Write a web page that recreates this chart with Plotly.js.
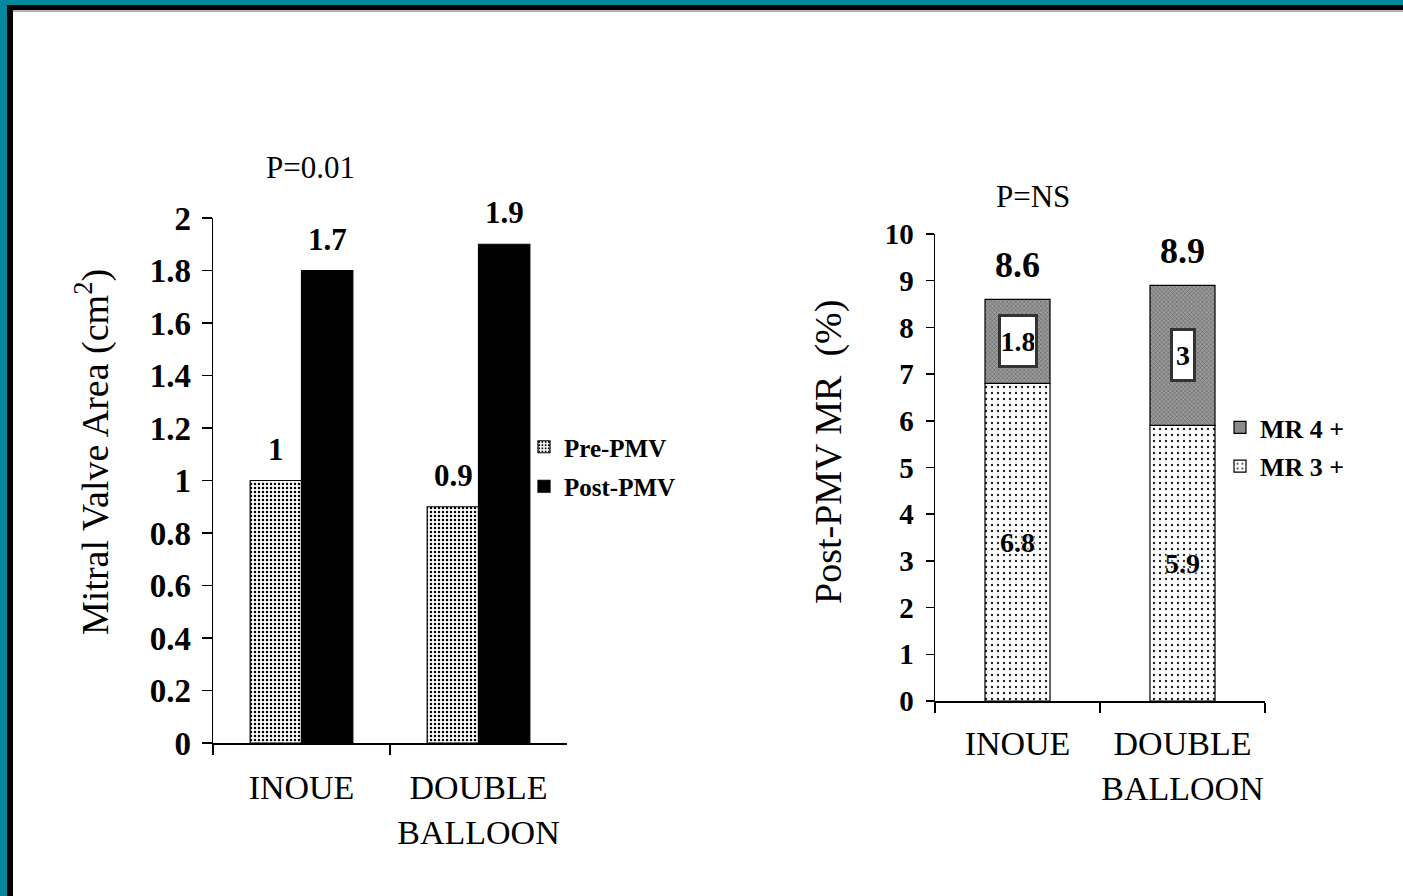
<!DOCTYPE html>
<html><head><meta charset="utf-8">
<script src="https://cdn.plot.ly/plotly-3.0.1.min.js"></script>
<style>html,body{margin:0;padding:0;background:#fff;overflow:hidden;} #chart{width:1403px;height:896px;}</style>
</head><body><div id="chart"></div>
<script>
// ---- data ----
const categories = ['INOUE', 'DOUBLE BALLOON'];
const categoryTickText = ['INOUE', 'DOUBLE<br>BALLOON'];
const prePMV = [1.0, 0.9];
const postPMV = [1.8, 1.9];
const prePMVLabels = ['1', '0.9'];
const postPMVLabels = ['1.7', '1.9'];
const mr3 = [6.8, 5.9];
const mr4 = [1.8, 3.0];
const mrTotalLabels = ['8.6', '8.9'];
const leftPValue = 'P=0.01';
const rightPValue = 'P=NS';

const SERIF = 'Liberation Serif, Times New Roman, serif';
const W = 1403, H = 896;
const px = v => v / W, py = v => 1 - v / H;

const traces = [
  {type:'bar', name:'Pre-PMV', x:categories, y:prePMV, xaxis:'x', yaxis:'y', legend:'legend', legendgroup:'a', legendrank:1,
   marker:{color:'#fff', line:{color:'#000', width:1.2},
     pattern:{shape:'.', fgcolor:'#000', bgcolor:'#fff', size:4, solidity:0.3}}},
  {type:'bar', name:'Post-PMV', x:categories, y:postPMV, xaxis:'x', yaxis:'y', legend:'legend', legendgroup:'b', legendrank:2,
   marker:{color:'#000', line:{color:'#000', width:1.2}}},
  {type:'bar', name:'MR 3 +', x:categories, y:mr3, xaxis:'x2', yaxis:'y2', legend:'legend2', legendgroup:'c', legendrank:2,
   offsetgroup:'mr', text:mr3.map(String), textposition:'inside', insidetextanchor:'middle',
   textfont:{family:SERIF, size:28, color:'#000', weight:'bold', shadow:'0 0 3px #fff, 0 0 3px #fff'},
   marker:{color:'#fff', line:{color:'#000', width:1.2},
     pattern:{shape:'.', fgcolor:'#222', bgcolor:'#fff', size:6, solidity:0.12}}},
  {type:'bar', name:'MR 4 +', x:categories, y:mr4, base:mr3, xaxis:'x2', yaxis:'y2', legend:'legend2', legendgroup:'d', legendrank:1,
   offsetgroup:'mr',
   marker:{color:'#888', line:{color:'#000', width:1.2},
     pattern:{shape:'x', fgcolor:'#5a5a5a', bgcolor:'#9a9a9a', size:3, solidity:0.3}}}
];

const annotations = [];
categories.forEach((c,i)=>{
  annotations.push({xref:'x', yref:'y', x:c, y:prePMV[i], xshift:-25.5, yshift:12, yanchor:'bottom',
    text:prePMVLabels[i], showarrow:false, font:{family:SERIF, size:31, weight:'bold', color:'#000'}});
  annotations.push({xref:'x', yref:'y', x:c, y:postPMV[i], xshift:25.5, yshift:12, yanchor:'bottom',
    text:postPMVLabels[i], showarrow:false, font:{family:SERIF, size:31, weight:'bold', color:'#000'}});
  annotations.push({xref:'x2', yref:'y2', x:c, y:mr3[i]+mr4[i], yshift:12, yanchor:'bottom',
    text:mrTotalLabels[i], showarrow:false, font:{family:SERIF, size:36, weight:'bold', color:'#000'}});
  annotations.push({xref:'x2', yref:'y2', x:c, y:mr3[i]+mr4[i]/2,
    text:String(mr4[i]), showarrow:false, bgcolor:'#fff', bordercolor:'#333', borderwidth:3, borderpad:1,
    width: i===0 ? 32 : 18, height:46,
    font:{family:SERIF, size:28, weight:'bold', color:'#000'}});
});
annotations.push({xref:'paper', yref:'paper', x:px(310), y:py(167), xanchor:'center', yanchor:'middle',
  text:leftPValue, showarrow:false, font:{family:SERIF, size:31, color:'#000'}});
annotations.push({xref:'paper', yref:'paper', x:px(1033), y:py(196), xanchor:'center', yanchor:'middle',
  text:rightPValue, showarrow:false, font:{family:SERIF, size:31, color:'#000'}});
annotations.push({xref:'paper', yref:'paper', x:px(92), y:py(452), xanchor:'center', yanchor:'middle', textangle:-90,
  text:'Mitral Valve Area (cm<sup>2</sup>)', showarrow:false, font:{family:SERIF, size:38, color:'#000'}});
annotations.push({xref:'paper', yref:'paper', x:px(828), y:py(452), xanchor:'center', yanchor:'middle', textangle:-90,
  text:'Post-PMV MR  (%)', showarrow:false, font:{family:SERIF, size:38, color:'#000'}});

const shapes = [
  {type:'rect', xref:'paper', yref:'paper', x0:0, x1:px(7), y0:0, y1:1, fillcolor:'#02889e', line:{width:0}},
  {type:'rect', xref:'paper', yref:'paper', x0:0, x1:1, y0:py(5), y1:1, fillcolor:'#02889e', line:{width:0}},
  {type:'rect', xref:'paper', yref:'paper', x0:px(7), x1:px(13), y0:0, y1:py(5), fillcolor:'#000', line:{width:0}},
  {type:'rect', xref:'paper', yref:'paper', x0:px(7), x1:1, y0:py(10), y1:py(5), fillcolor:'#000', line:{width:0}},
  {type:'line', xref:'paper', yref:'paper', x0:px(13), x1:1, y0:py(11), y1:py(11), line:{color:'#666', width:1}}
];

const axCommon = {showgrid:false, zeroline:false, showline:true, linecolor:'#000', linewidth:1.5,
  ticks:'outside', tickcolor:'#000', tickwidth:1.5, fixedrange:true};

const layout = {
  width:W, height:H, margin:{l:0, r:0, t:0, b:0}, paper_bgcolor:'#fff', plot_bgcolor:'#fff',
  barmode:'group', bargap:0.42, bargroupgap:0, showlegend:true,
  xaxis:Object.assign({}, axCommon, {domain:[px(213), px(567)], anchor:'y', type:'category',
    tickson:'boundaries', ticklen:10, tickvals:categories, ticktext:categoryTickText, tickangle:0,
    ticklabelstandoff:14, tickfont:{family:SERIF, size:34, color:'#000'}}),
  yaxis:Object.assign({}, axCommon, {domain:[1-743/H, 1-218/H], anchor:'x', range:[0,2],
    tick0:0, dtick:0.2, ticklen:10, ticklabelstandoff:4, tickfont:{family:SERIF, size:33, weight:'bold', color:'#000'}}),
  xaxis2:Object.assign({}, axCommon, {domain:[px(935), px(1265)], anchor:'y2', type:'category',
    tickson:'boundaries', ticklen:10, tickvals:categories, ticktext:categoryTickText, tickangle:0,
    ticklabelstandoff:12, tickfont:{family:SERIF, size:34, color:'#000'}}),
  yaxis2:Object.assign({}, axCommon, {domain:[1-701/H, 1-234/H], anchor:'x2', range:[0,10],
    tick0:0, dtick:1, ticklen:8, ticklabelstandoff:6, tickfont:{family:SERIF, size:29, weight:'bold', color:'#000'}}),
  legend:{x:px(524), y:py(424), xanchor:'left', yanchor:'top', bgcolor:'rgba(0,0,0,0)',
    font:{family:SERIF, size:25, weight:'bold', color:'#000'}, itemwidth:30, tracegroupgap:4,
    traceorder:'grouped'},
  legend2:{x:px(1220), y:py(404), xanchor:'left', yanchor:'top', bgcolor:'rgba(0,0,0,0)',
    font:{family:SERIF, size:26, weight:'bold', color:'#000'}, itemwidth:30, tracegroupgap:2,
    traceorder:'grouped'},
  annotations:annotations, shapes:shapes
};
traces[2].width = [0.394, 0.394];
traces[3].width = [0.394, 0.394];

Plotly.newPlot('chart', traces, layout, {displayModeBar:false, staticPlot:true});
</script></body></html>
